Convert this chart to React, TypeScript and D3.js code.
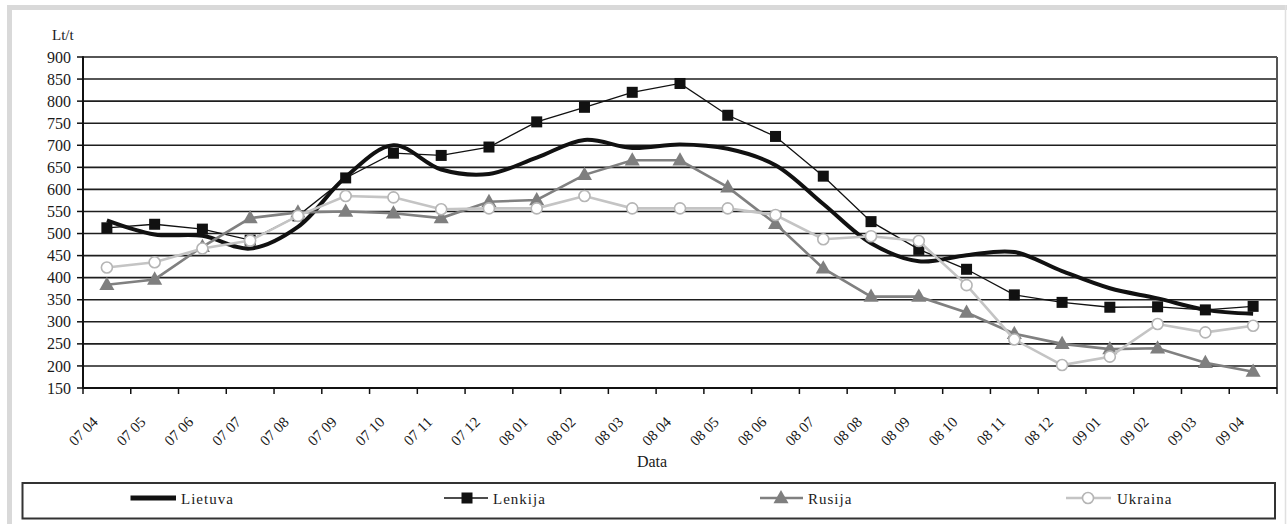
import React from "react";
import * as d3 from "d3";

const categories = ["07 04","07 05","07 06","07 07","07 08","07 09","07 10","07 11","07 12","08 01","08 02","08 03","08 04","08 05","08 06","08 07","08 08","08 09","08 10","08 11","08 12","09 01","09 02","09 03","09 04"];
const lietuva = [530, 498, 495, 466, 515, 628, 700, 645, 635, 672, 712, 694, 702, 692, 655, 567, 478, 437, 451, 458, 415, 376, 353, 327, 318];
const lenkija = [513, 521, 510, 485, 540, 626, 682, 677, 696, 753, 786, 820, 840, 768, 720, 630, 527, 464, 419, 361, 344, 333, 334, 327, 335];
const rusija = [384, 396, 470, 535, 548, 550, 546, 535, 572, 576, 633, 666, 666, 605, 522, 421, 357, 357, 321, 273, 250, 238, 240, 207, 187];
const ukraina = [423, 435, 466, 484, 540, 585, 582, 555, 557, 557, 585, 557, 557, 557, 542, 487, 494, 483, 383, 260, 202, 221, 295, 276, 291];
const yTicks = [150, 200, 250, 300, 350, 400, 450, 500, 550, 600, 650, 700, 750, 800, 850, 900];

const W = 1287, H = 524;
const L = 83, R = 1277, T = 57, B = 388;
const FONT = "'Liberation Serif', 'DejaVu Serif', serif";

export default function App() {
  const x = d3.scaleBand<string>().domain(categories).range([L, R]).paddingInner(0).paddingOuter(0);
  const y = d3.scaleLinear().domain([150, 900]).range([B, T]);
  const cx = (i: number) => (x(categories[i]) as number) + x.bandwidth() / 2;

  const smooth = d3.line<number>().x((_, i) => cx(i)).y((v) => y(v)).curve(d3.curveCatmullRom.alpha(0.5));
  const straight = d3.line<number>().x((_, i) => cx(i)).y((v) => y(v));

  const tri = (px: number, py: number, s: number) =>
    `M${px},${py - s * 0.62}L${px + s * 0.58},${py + s * 0.4}L${px - s * 0.58},${py + s * 0.4}Z`;

  const boundaries = categories.map((c) => x(c) as number).concat([R]);
  const legY = 498;
  const txt = { fontFamily: FONT, fill: "#1a1a1a" } as React.CSSProperties;

  return (
    <div style={{ position: "absolute", left: 0, top: 0 }}>
      <svg width={W} height={H} style={{ display: "block", background: "#fff", fontFamily: FONT }}>
        {/* outer frame */}
        <rect x={7} y={5} width={W - 7} height={5} fill="#d9d9d9" />
        <rect x={7} y={5} width={5} height={H - 5} fill="#d9d9d9" />
        <line x1={1285.5} x2={1285.5} y1={5} y2={H} stroke="#e0e0e0" strokeWidth={1.5} />

        {/* gridlines */}
        {yTicks.filter((t) => t > 150).map((t) => (
          <line key={t} x1={L} x2={R} y1={y(t)} y2={y(t)} stroke="#1e1e1e" strokeWidth={1.6} />
        ))}
        {/* right border */}
        <line x1={R} x2={R} y1={T} y2={B} stroke="#555" strokeWidth={2} />

        {/* y axis */}
        <line x1={L} x2={L} y1={T - 0.8} y2={B + 1} stroke="#111" strokeWidth={2} />
        {yTicks.map((t) => (
          <g key={t}>
            <line x1={L - 6} x2={L} y1={y(t)} y2={y(t)} stroke="#111" strokeWidth={1.5} />
            <text x={71} y={y(t)} dy="0.35em" textAnchor="end" fontSize={16} style={txt}>{t}</text>
          </g>
        ))}
        <text x={52} y={40} fontSize={15} style={txt}>Lt/t</text>

        {/* x axis */}
        <line x1={L} x2={R} y1={B} y2={B} stroke="#111" strokeWidth={2} />
        {boundaries.map((b, i) => (
          <line key={i} x1={b} x2={b} y1={B} y2={B + 6} stroke="#111" strokeWidth={1.5} />
        ))}
        {categories.map((c, i) => (
          <text key={c} transform={`translate(${cx(i) - 8},${423}) rotate(-45)`} textAnchor="end" fontSize={15} style={txt}>{c}</text>
        ))}
        <text x={652} y={467} textAnchor="middle" fontSize={16} style={txt}>Data</text>

        {/* series */}
        <path d={smooth(lietuva) || ""} fill="none" stroke="#111" strokeWidth={4} strokeLinejoin="round" />
        <path d={straight(lenkija) || ""} fill="none" stroke="#111" strokeWidth={1.3} />
        {lenkija.map((v, i) => (
          <rect key={i} x={cx(i) - 5.5} y={y(v) - 5.5} width={11} height={11} fill="#111" />
        ))}
        <path d={straight(rusija) || ""} fill="none" stroke="#808080" strokeWidth={2.6} />
        {rusija.map((v, i) => (
          <path key={i} d={tri(cx(i), y(v), 13)} fill="#7f7f7f" />
        ))}
        <path d={straight(ukraina) || ""} fill="none" stroke="#c4c4c4" strokeWidth={2.6} />
        {ukraina.map((v, i) => (
          <circle key={i} cx={cx(i)} cy={y(v)} r={5.5} fill="#fff" stroke="#b5b5b5" strokeWidth={1.6} />
        ))}

        {/* legend */}
        <rect x={22.5} y={483} width={1252.5} height={35.5} fill="#fff" stroke="#333" strokeWidth={2} />
        <line x1={130.5} x2={176} y1={legY} y2={legY} stroke="#111" strokeWidth={5} />
        <text x={181} y={legY + 5.5} fontSize={15} letterSpacing={1} style={txt}>Lietuva</text>
        <line x1={444} x2={488} y1={legY} y2={legY} stroke="#111" strokeWidth={1.3} />
        <rect x={461.5} y={legY - 5.5} width={11} height={11} fill="#111" />
        <text x={493} y={legY + 5.5} fontSize={15} letterSpacing={1} style={txt}>Lenkija</text>
        <line x1={760} x2={803} y1={legY} y2={legY} stroke="#808080" strokeWidth={2.6} />
        <path d={tri(781, legY, 13)} fill="#7f7f7f" />
        <text x={808} y={legY + 5.5} fontSize={15} letterSpacing={1} style={txt}>Rusija</text>
        <line x1={1066} x2={1111} y1={legY} y2={legY} stroke="#c4c4c4" strokeWidth={2.6} />
        <circle cx={1088} cy={legY} r={5.5} fill="#fff" stroke="#b5b5b5" strokeWidth={1.6} />
        <text x={1117} y={legY + 5.5} fontSize={15} letterSpacing={1} style={txt}>Ukraina</text>
      </svg>
    </div>
  );
}
